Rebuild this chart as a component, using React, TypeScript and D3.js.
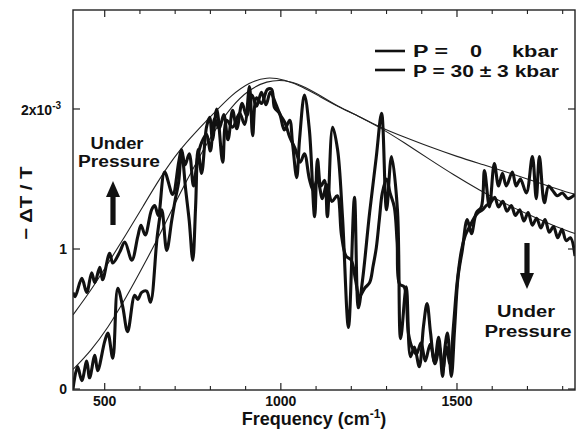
import React from "react";
import * as d3 from "d3";

// Spectra: [frequency (cm^-1), -ΔT/T (units of 1e-3)]
const ambientSpectrum: [number, number][] = [
  [410, 0.0], [423, 0.16], [435, 0.06], [449, 0.2], [457, 0.08], [472, 0.24], [480, 0.13],
  [500, 0.34], [509, 0.4], [523, 0.22], [537, 0.72], [551, 0.59], [565, 0.41], [585, 0.67],
  [594, 0.64], [605, 0.69], [619, 0.7], [630, 0.62], [650, 1.11], [662, 1.28], [676, 0.99],
  [690, 1.2], [700, 1.35], [710, 1.48], [718, 1.7], [730, 1.42], [740, 1.2], [750, 0.92],
  [758, 1.3], [765, 1.71], [775, 1.54], [789, 1.87], [798, 1.94], [806, 1.78], [818, 2.0],
  [835, 1.62], [846, 1.92], [863, 1.87], [883, 1.97], [897, 1.89], [911, 2.16], [920, 1.81],
  [931, 2.08], [945, 2.04], [962, 2.14], [974, 2.14], [982, 2.01], [996, 1.97], [1010, 1.85],
  [1025, 1.92], [1033, 1.76], [1045, 1.51], [1053, 1.78], [1067, 2.1], [1081, 1.85],
  [1096, 1.23], [1104, 1.64], [1114, 1.45], [1124, 1.49], [1132, 1.23], [1147, 1.87],
  [1161, 1.71], [1175, 1.23], [1192, 0.44], [1209, 1.37], [1220, 0.58], [1232, 0.78],
  [1252, 1.26], [1271, 1.66], [1286, 1.97], [1300, 1.28], [1314, 1.66], [1331, 1.28],
  [1340, 0.36], [1356, 0.73], [1368, 0.23], [1379, 0.3], [1393, 0.16], [1405, 0.45],
  [1415, 0.61], [1425, 0.4], [1436, 0.19], [1448, 0.37], [1459, 0.09], [1466, 0.3],
  [1473, 0.4], [1484, 0.09], [1493, 0.42], [1503, 0.8], [1515, 0.99], [1529, 1.21],
  [1541, 1.11], [1555, 1.26], [1569, 1.3], [1578, 1.56], [1592, 1.3], [1606, 1.61],
  [1618, 1.45], [1629, 1.54], [1640, 1.45], [1657, 1.55], [1668, 1.45], [1680, 1.5],
  [1697, 1.4], [1714, 1.66], [1725, 1.36], [1734, 1.66], [1748, 1.33], [1760, 1.45],
  [1771, 1.42], [1785, 1.38], [1799, 1.4], [1815, 1.36], [1835, 1.39],
];

const pressureSpectrum: [number, number][] = [
  [410, 0.69], [416, 0.66], [435, 0.79], [449, 0.69], [463, 0.83], [472, 0.76], [486, 0.87],
  [494, 0.78], [514, 0.97], [523, 0.9], [543, 0.98], [557, 1.05], [577, 0.92], [594, 1.09],
  [603, 1.17], [615, 1.1], [633, 1.28], [642, 1.31], [652, 1.24], [670, 1.55], [693, 1.39],
  [710, 1.62], [718, 1.71], [728, 1.6], [740, 1.68], [752, 1.45], [764, 1.66],
  [775, 1.76], [789, 1.82], [800, 1.7], [812, 1.93], [825, 1.86], [838, 1.96], [850, 1.78],
  [863, 1.99], [875, 1.86], [890, 2.04], [903, 1.95], [918, 2.1], [931, 2.02], [945, 2.12],
  [958, 2.03], [970, 2.12], [985, 2.04], [998, 1.96], [1012, 1.9], [1025, 1.8], [1040, 1.72],
  [1055, 1.62], [1067, 1.68], [1081, 1.5], [1092, 1.42], [1104, 1.5], [1118, 1.36],
  [1130, 1.46], [1145, 1.34], [1160, 1.38], [1172, 1.1], [1185, 0.95], [1200, 0.92],
  [1212, 0.78], [1223, 0.66], [1238, 0.72], [1252, 0.76], [1262, 0.88], [1271, 1.01],
  [1280, 1.22], [1288, 1.4], [1300, 1.5], [1310, 1.4], [1322, 1.3], [1330, 1.05],
  [1337, 0.75], [1350, 0.73], [1362, 0.4], [1372, 0.3], [1385, 0.25], [1398, 0.33],
  [1410, 0.2], [1424, 0.32], [1438, 0.18], [1450, 0.3], [1460, 0.14], [1470, 0.3],
  [1480, 0.18], [1490, 0.45], [1500, 0.75], [1512, 0.98], [1524, 1.1], [1536, 1.16],
  [1548, 1.22], [1560, 1.26], [1572, 1.28], [1583, 1.31], [1595, 1.33], [1607, 1.37],
  [1618, 1.3], [1630, 1.34], [1642, 1.27], [1654, 1.31], [1666, 1.24], [1678, 1.28],
  [1690, 1.2], [1702, 1.26], [1714, 1.17], [1726, 1.22], [1738, 1.15], [1750, 1.21],
  [1762, 1.12], [1774, 1.16], [1786, 1.08], [1798, 1.14], [1810, 1.06], [1822, 1.08],
  [1835, 0.95],
];

// Smooth model fits
const ambientFit: [number, number][] = [
  [410, 0.14], [460, 0.27], [510, 0.44], [560, 0.65], [610, 0.88], [660, 1.12], [710, 1.38],
  [760, 1.62], [810, 1.84], [860, 2.02], [910, 2.14], [960, 2.2], [1010, 2.21], [1060, 2.17],
  [1110, 2.1], [1160, 2.02], [1220, 1.95], [1280, 1.87], [1350, 1.8], [1422, 1.73],
  [1500, 1.66], [1578, 1.6], [1640, 1.55], [1700, 1.5], [1770, 1.44], [1835, 1.39],
];

const pressureFit: [number, number][] = [
  [410, 0.53], [460, 0.7], [510, 0.9], [560, 1.1], [610, 1.31], [660, 1.52], [710, 1.7],
  [760, 1.84], [810, 1.97], [860, 2.1], [910, 2.19], [960, 2.23], [1010, 2.21], [1060, 2.16],
  [1110, 2.09], [1160, 2.02], [1220, 1.95], [1280, 1.87], [1350, 1.76], [1422, 1.64],
  [1490, 1.53], [1564, 1.42], [1630, 1.33], [1700, 1.25], [1770, 1.17], [1835, 1.11],
];

const xMajorTicks = [500, 1000, 1500];
const xMinorTicks = [600, 700, 800, 900, 1100, 1200, 1300, 1400, 1600, 1700, 1800];
const yTicks = [0, 1, 2];

const W = 576;
const H = 435;
const left = 73;
const right = 575;
const top = 10;
const bottom = 390;
const font = "'Liberation Sans', Arial, Helvetica, sans-serif";

export default function App() {
  const x = d3.scaleLinear().domain([410, 1835]).range([left, right]);
  const y = d3.scaleLinear().domain([-0.007, 2.707]).range([bottom, top]);

  const dataLine = d3
    .line<[number, number]>()
    .x((d) => x(d[0]))
    .y((d) => y(d[1]))
    .curve(d3.curveCatmullRom.alpha(0.5));

  const fitLine = d3
    .line<[number, number]>()
    .x((d) => x(d[0]))
    .y((d) => y(d[1]))
    .curve(d3.curveBasis);

  const upArrow = (cx: number, tip: number, tail: number) =>
    `M${cx},${tip} L${cx + 7},${tip + 16} L${cx + 2.6},${tip + 16} L${cx + 2.6},${tail} L${cx - 2.6},${tail} L${cx - 2.6},${tip + 16} L${cx - 7},${tip + 16} Z`;
  const downArrow = (cx: number, tip: number, tail: number) =>
    `M${cx},${tip} L${cx + 7},${tip - 16} L${cx + 2.6},${tip - 16} L${cx + 2.6},${tail} L${cx - 2.6},${tail} L${cx - 2.6},${tip - 16} L${cx - 7},${tip - 16} Z`;

  return (
    <svg
      width={W}
      height={H}
      style={{ position: "fixed", left: 0, top: 0, background: "#fff" }}
      fontFamily={font}
      fontWeight="bold"
    >
      <defs>
        <clipPath id="plot-area">
          <rect x={left} y={top} width={right - left} height={bottom - top} />
        </clipPath>
      </defs>
      <rect x={0} y={0} width={W} height={H} fill="#fff" />

      <g clipPath="url(#plot-area)">
        <path d={fitLine(ambientFit) ?? ""} fill="none" stroke="#222" strokeWidth={1.1} />
        <path d={fitLine(pressureFit) ?? ""} fill="none" stroke="#222" strokeWidth={1.1} />
        <path
          d={dataLine(ambientSpectrum) ?? ""}
          fill="none"
          stroke="#111"
          strokeWidth={3.1}
          strokeLinejoin="round"
        />
        <path
          d={dataLine(pressureSpectrum) ?? ""}
          fill="none"
          stroke="#111"
          strokeWidth={3.1}
          strokeLinejoin="round"
        />
      </g>

      {/* frame */}
      <rect
        x={left}
        y={top}
        width={right - left}
        height={bottom - top}
        fill="none"
        stroke="#222"
        strokeWidth={1.4}
      />

      {/* x ticks, bottom and top */}
      {xMajorTicks.map((t) => (
        <g key={`xM${t}`}>
          <line x1={x(t)} x2={x(t)} y1={bottom} y2={bottom - 7} stroke="#222" strokeWidth={1.2} />
          <line x1={x(t)} x2={x(t)} y1={top} y2={top + 7} stroke="#222" strokeWidth={1.2} />
          <text x={x(t)} y={406} textAnchor="middle" fontSize={14} fill="#111">
            {t}
          </text>
        </g>
      ))}
      {xMinorTicks.map((t) => (
        <g key={`xm${t}`}>
          <line x1={x(t)} x2={x(t)} y1={bottom} y2={bottom - 4} stroke="#222" strokeWidth={1.1} />
          <line x1={x(t)} x2={x(t)} y1={top} y2={top + 4} stroke="#222" strokeWidth={1.1} />
        </g>
      ))}

      {/* y ticks, left and right */}
      {yTicks.map((t) => (
        <g key={`y${t}`}>
          <line x1={left} x2={left + 7} y1={y(t)} y2={y(t)} stroke="#222" strokeWidth={1.2} />
          <line x1={right} x2={right - 7} y1={y(t)} y2={y(t)} stroke="#222" strokeWidth={1.2} />
        </g>
      ))}
      <text x={67} y={y(0) + 5} textAnchor="end" fontSize={14} fill="#111">
        0
      </text>
      <text x={67} y={y(1) + 5} textAnchor="end" fontSize={14} fill="#111">
        1
      </text>
      <text x={21} y={y(2) + 6} fontSize={14} fill="#111">
        2x10
        <tspan dy={-6} fontSize={10}>
          -3
        </tspan>
      </text>

      {/* axis titles */}
      <text x={314} y={425} textAnchor="middle" fontSize={18} fill="#111">
        Frequency (cm
        <tspan dy={-7} fontSize={12}>
          -1
        </tspan>
        <tspan dy={7}>)</tspan>
      </text>
      <text
        transform={`translate(32,203) rotate(-90)`}
        textAnchor="middle"
        fontSize={17}
        fill="#111"
        textLength={73}
        lengthAdjust="spacingAndGlyphs"
      >
        − ΔT / T
      </text>

      {/* legend */}
      <line x1={375} x2={405} y1={51} y2={51} stroke="#111" strokeWidth={2.6} />
      <line x1={375} x2={405} y1={70} y2={70} stroke="#111" strokeWidth={2.6} />
      <text x={413} y={57} fontSize={16} fill="#111" textLength={35} lengthAdjust="spacingAndGlyphs">
        P =
      </text>
      <text x={470} y={57} fontSize={16} fill="#111" textLength={12} lengthAdjust="spacingAndGlyphs">
        0
      </text>
      <text x={512} y={57} fontSize={16} fill="#111" textLength={46} lengthAdjust="spacingAndGlyphs">
        kbar
      </text>
      <text x={413} y={77} fontSize={16} fill="#111" textLength={146} lengthAdjust="spacingAndGlyphs">
        P = 30 ± 3 kbar
      </text>

      {/* pressure annotations */}
      <text x={117} y={149} textAnchor="middle" fontSize={16} fill="#111" textLength={53} lengthAdjust="spacingAndGlyphs">
        Under
      </text>
      <text x={119} y={167} textAnchor="middle" fontSize={16} fill="#111" textLength={82} lengthAdjust="spacingAndGlyphs">
        Pressure
      </text>
      <path d={upArrow(113, 181, 225)} fill="#111" />

      <text x={526} y={317} textAnchor="middle" fontSize={16} fill="#111" textLength={58} lengthAdjust="spacingAndGlyphs">
        Under
      </text>
      <text x={528} y={337} textAnchor="middle" fontSize={16} fill="#111" textLength={87} lengthAdjust="spacingAndGlyphs">
        Pressure
      </text>
      <path d={downArrow(527, 289, 243)} fill="#111" />
    </svg>
  );
}
